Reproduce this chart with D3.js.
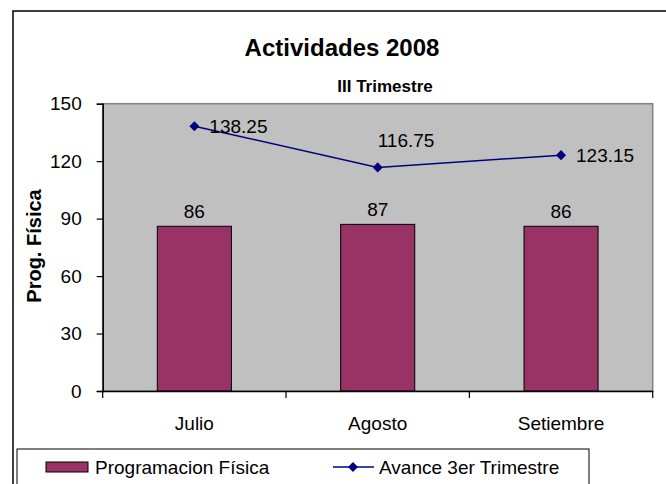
<!DOCTYPE html>
<html>
<head>
<meta charset="utf-8">
<script src="https://cdn.jsdelivr.net/npm/d3@7"></script>
<style>
	body { margin:0; background:#fff; }
	text { font-family:"Liberation Sans", Arial, sans-serif; fill:#000; }
</style>
</head>
<body>
<div id="chart"></div>
<script>
var categories = ['Julio', 'Agosto', 'Setiembre'];
var programacion = [86, 87, 86];
var avance = [138.25, 116.75, 123.15];
var yTicks = [0, 30, 60, 90, 120, 150];
var seriesNames = ['Programacion Física', 'Avance 3er Trimestre'];
// where each line label sits relative to its point
var avanceLabelPlace = ['right', 'above', 'right'];

var W = 666, H = 484;
var plot = { left : 102.7, right : 652.7, top : 103.7, bottom : 391 };
var font = '"Liberation Sans", Arial, sans-serif';

var svg = d3.select('#chart').append('svg')
	.attr('width', W)
	.attr('height', H);

// outer frame (runs off the right and bottom edge)
svg.append('rect')
	.attr('x', 13).attr('y', 11)
	.attr('width', 700).attr('height', 520)
	.attr('fill', '#fff')
	.attr('stroke', '#000')
	.attr('stroke-width', 1.5);

svg.append('text')
	.attr('x', 342).attr('y', 56)
	.attr('text-anchor', 'middle')
	.style('font-size', '24px').style('font-weight', 'bold')
	.text('Actividades 2008');

svg.append('text')
	.attr('x', 385).attr('y', 92)
	.attr('text-anchor', 'middle')
	.style('font-size', '17px').style('font-weight', 'bold')
	.text('III Trimestre');

var x = d3.scaleBand()
	.domain(categories)
	.range([plot.left, plot.right])
	.padding(0);

var y = d3.scaleLinear()
	.domain([0, 150])
	.range([plot.bottom, plot.top]);

// plot area
svg.append('rect')
	.attr('x', plot.left).attr('y', plot.top)
	.attr('width', plot.right - plot.left)
	.attr('height', plot.bottom - plot.top)
	.attr('fill', '#c0c0c0')
	.attr('stroke', '#808080')
	.attr('stroke-width', 1.5);

// bars
var barW = x.bandwidth() * 0.404;
svg.append('g').selectAll('rect')
	.data(programacion)
	.enter()
	.append('rect')
	.attr('x', function(d, i){ return x(categories[i]) + (x.bandwidth() - barW) / 2; })
	.attr('y', function(d){ return y(d); })
	.attr('width', barW)
	.attr('height', function(d){ return y(0) - y(d); })
	.attr('fill', '#993366')
	.attr('stroke', '#000')
	.attr('stroke-width', 1);

svg.append('g').selectAll('text')
	.data(programacion)
	.enter()
	.append('text')
	.attr('x', function(d, i){ return x(categories[i]) + x.bandwidth() / 2; })
	.attr('y', function(d){ return y(d) - 8; })
	.attr('text-anchor', 'middle')
	.style('font-size', '19px')
	.text(function(d){ return d; });

// axes
var yAxis = d3.axisLeft(y).tickValues(yTicks).tickSize(6).tickPadding(15);
var gy = svg.append('g')
	.attr('transform', 'translate(' + plot.left + ',0)')
	.call(yAxis);
gy.selectAll('text').style('font-size', '19px').style('font-family', font);

var xAxis = d3.axisBottom(x).tickSize(0).tickPadding(26);
var gx = svg.append('g')
	.attr('transform', 'translate(0,' + plot.bottom + ')')
	.call(xAxis);
gx.selectAll('text').style('font-size', '19px').style('font-family', font);

[gx, gy].forEach(function(g){
	g.select('.domain').attr('stroke', '#000').attr('stroke-width', 1.5);
	g.selectAll('line').attr('stroke', '#000').attr('stroke-width', 1.2);
});

// x ticks sit on the category boundaries
var bounds = categories.map(function(c){ return x(c); }).concat([plot.right]);
gx.selectAll('.bound')
	.data(bounds)
	.enter()
	.append('line')
	.attr('x1', function(d){ return d; })
	.attr('x2', function(d){ return d; })
	.attr('y1', 0).attr('y2', 7)
	.attr('stroke', '#000')
	.attr('stroke-width', 1.2);

svg.append('text')
	.attr('transform', 'translate(41,246) rotate(-90)')
	.attr('text-anchor', 'middle')
	.style('font-size', '20px').style('font-weight', 'bold')
	.text('Prog. Física');

// line series
var cx = function(i){ return x(categories[i]) + x.bandwidth() / 2; };
var line = d3.line()
	.x(function(d, i){ return cx(i); })
	.y(function(d){ return y(d); });

svg.append('path')
	.datum(avance)
	.attr('d', line)
	.attr('fill', 'none')
	.attr('stroke', '#000080')
	.attr('stroke-width', 1.5);

var diamond = d3.symbol().type(d3.symbolDiamond2).size(64);
svg.append('g').selectAll('path')
	.data(avance)
	.enter()
	.append('path')
	.attr('d', diamond)
	.attr('transform', function(d, i){ return 'translate(' + cx(i) + ',' + y(d) + ')'; })
	.attr('fill', '#000080');

svg.append('g').selectAll('text')
	.data(avance)
	.enter()
	.append('text')
	.attr('x', function(d, i){ return avanceLabelPlace[i] == 'right' ? cx(i) + 15 : cx(i); })
	.attr('y', function(d, i){ return avanceLabelPlace[i] == 'right' ? y(d) + 7 : y(d) - 20; })
	.style('font-size', '19px')
	.text(function(d){ return d; });

// legend
var lg = svg.append('g');
lg.append('rect')
	.attr('x', 17).attr('y', 449)
	.attr('width', 572).attr('height', 60)
	.attr('fill', '#fff')
	.attr('stroke', '#000')
	.attr('stroke-width', 1);

lg.append('rect')
	.attr('x', 46).attr('y', 462)
	.attr('width', 42).attr('height', 10)
	.attr('fill', '#993366')
	.attr('stroke', '#000');
lg.append('text')
	.attr('x', 95).attr('y', 474)
	.style('font-size', '19px')
	.text(seriesNames[0]);

lg.append('line')
	.attr('x1', 333).attr('x2', 374)
	.attr('y1', 467).attr('y2', 467)
	.attr('stroke', '#000080')
	.attr('stroke-width', 1.5);
lg.append('path')
	.attr('d', diamond)
	.attr('transform', 'translate(353,467)')
	.attr('fill', '#000080');
lg.append('text')
	.attr('x', 379).attr('y', 474)
	.style('font-size', '19px')
	.text(seriesNames[1]);
</script>
</body>
</html>
